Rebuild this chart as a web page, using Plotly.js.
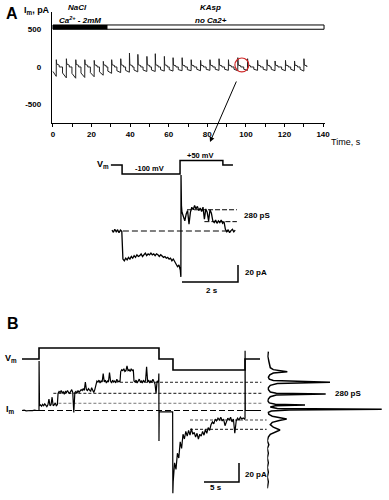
<!DOCTYPE html>
<html><head><meta charset="utf-8">
<script src="https://cdn.plot.ly/plotly-3.0.1.min.js"></script>
<style>html,body{margin:0;padding:0;background:#fff}#plot{width:389px;height:500px}</style>
</head><body><div id="plot"></div>
<script>
// ---------- Panel A, long recording (per-cycle values) ----------
const spikeTimes = [1.74,6.96,11.83,16.52,21.39,26.09,30.43,35.13,39.65,44.0,48.7,53.04,57.74,62.26,66.96,71.65,76.52,81.39,86.09,90.96,95.83,100.87,106.09,110.96,115.13,120.52,125.22,130.09];
const peakCurrents = [97,110,97,97,88,75,97,110,186,168,141,177,141,124,124,97,88,97,110,97,124,110,88,97,80,88,80,110];
const negStartCurrents = [-60,-80,-85,-80,-75,-65,-55,-50,-45,-40,-40,-40,-35,-35,-35,-35,-30,-30,-30,-30,-30,-30,-30,-30,-30,-30,-30,-30];
const negEndCurrents = [-125,-145,-150,-140,-130,-110,-85,-75,-70,-65,-60,-60,-55,-55,-50,-50,-50,-45,-45,-45,-50,-45,-45,-45,-50,-50,-50,-55];
const plateauCurrents = [40,40,35,35,30,30,30,30,30,30,30,30,30,25,25,25,25,25,25,25,25,25,25,25,25,25,25,25];
const xTickVals = [0,10,20,30,40,50,60,70,80,90,100,110,120,130,140];
const xTickText = ['0','','20','','40','','60','','80','','100','','120','','140'];
const yTickVals = [-500,0,500];
const yTickText = ['-500','0','500'];
const solutionBounds = [0,28,140.5];
const solutionBarLevels = [503,560];
const circleTime = [94.3,101.5];
const circleCurrent = [-66,120];

// ---------- Panel A inset (time s, current pA, voltage mV) ----------
const insetSegments = [
  {t0:0, dt:0.05, v:[1,-1.5,2,-1,1.5,-2,1,-0.5]},
  {t0:0.39, dt:0.05, v:[-33,-35,-32,-34,-31,-33,-30,-32,-29,-31,-28,-30,-29,-27,-30,-28,-26,-29,-27,-28,-26,-28,-27,-29,-27,-28,-30,-28,-29,-31,-30,-32,-31,-33,-32,-35,-33,-36,-38,-42,-40,-46]},
  {times:[2.46,2.465,2.48], v:[-54,66,30]},
  {t0:2.5, dt:0.05, v:[22,18,12,20,24,8,22,28,25,30,26,29,24,27,23,28,14,26,22,12,25,21,12,10,13,9,12,10,13,9,11]},
  {t0:4.05, dt:0.05, v:[2,-1,1.5,-2,0.5,2,-1,1]}
];
const insetVmTimes = [-0.04,0.36,2.43,3.96,4.32];
const insetVmLevels = [0,-100,50,0];
const insetDashLevels = [0,25,11];
const insetDashStart = [0.39,2.68,3.3];
const insetDashEnd = [4.25,4.46,4.46];
const insetScaleT = [4.5,4.5,2.5];
const insetScaleI = [-40,-60,-60];

// ---------- Panel B ----------
const bSegments = [
  {t0:0, dt:0.3, v:[0,0.3,-0.3,0.2,0,-0.2,0.3,0,0.1]},
  {times:[2.43,2.44,2.46], v:[0,52,5]},
  {t0:2.5, dt:0.15, v:[5,6,4.5,6.5,5,7,5,4,6,12,5,6,14,5,6,8,5,6]},
  {t0:5.15, dt:0.15, v:[18,20,19,21,18,20,17,20,19,21,19,18,20,22,19,-2,19,20,18,21,19,20,22,21,23,21,30,22,21,23,22,20,24,21,19,22]},
  {t0:10.55, dt:0.15, v:[29,31,30,32,29,31,30,39,30,32,29,31,30,40,31,29,32,30,31,29,33,30,31,30]},
  {t0:14.1, dt:0.15, v:[41,43,42,44,41,42,47,42,43,41,44,42,43]},
  {t0:16.0, dt:0.15, v:[31,30,32,29,31,33,30,31,29,32,30,31,46,30,32,29,31,30,33,30,28,18,31,30]},
  {times:[19.52,19.55,19.57,19.6], v:[32,39,-32,-1.5]},
  {t0:19.8, dt:0.3, v:[-1.5,-1.2,-1.6,-1.3,-1.5,-1.4]},
  {times:[21.52,21.55], v:[-1.5,-87]},
  {t0:21.6, dt:0.2, v:[-75,-55,-62,-45,-50,-33,-40,-25,-30,-22,-27,-21,-26,-19,-25,-23,-28,-24,-30,-25,-27,-22,-26,-20,-24,-18,-21,-15,-12,-14,-9,-11,-8,-10,-7,-11,-9,-16,-12,-8,-10,-7,-12,-9,-24,-11,-8,-10,-7,-9,-8,-9]},
  {times:[31.86,31.87,31.9], v:[-8,63,0]},
  {t0:32.0, dt:0.3, v:[0,0.1,-0.1,0,0.1,0,-0.1,0]}
];
const bVmTimes = [0,2.43,19.57,21.57,31.86,34.0];
const bVmLevels = [0,40,0,-40,0];
const bDashLevels = [0,7.6,18.1,29.7,-10,-19.8];
const bDashStart = [2.43,5.2,4.48,14,24,24];
const bDashEnd = [34.2,34.2,34.2,34.2,34.95,34.95];
const bDashColors = ['#000','#777','#111','#222','#444','#111'];
const bDashStyles = ['6px,3px','3px,2px','3px,2px','3px,2px','3px,2px','3px,2px'];
const bScaleT = [31,31,26];
const bScaleI = [-55.3,-75.3,-75.3];
const histCounts = [1,0.5,1.5,2,3,6,20,6,2.5,1,2,6,62.7,10,3,1,1,3,9,58.4,9,3,1,0.5,2,8,37.7,8,3,10,114.4,22,4,1,1.5,5,12,19.4,12,5,3,6,12.7,9,3,1,0,1.5,0,1,0,1,0,1,0,1,0];
const histCurrent = [62,57,52,48,45,43,40.8,39.5,37.5,35,33,31.5,29.7,28.5,26.5,24,22,19.5,18.2,17.4,16.3,14.5,12,10,8,6.5,5.8,5,3.6,2,1.3,0.6,-0.5,-2,-4,-6,-7.5,-8.9,-10.5,-12.5,-15,-17.5,-20.5,-22.5,-25,-28,-32,-36,-40,-45,-50,-55,-60,-65,-70,-75,-82];

// ---------- build ----------
function buildSegments(segs){
  const t=[], v=[];
  segs.forEach(s=>{
    s.v.forEach((val,i)=>{ t.push(s.times ? s.times[i] : s.t0 + i*s.dt); v.push(val); });
  });
  return {t, v};
}
function buildSteps(times, levels){
  const t=[], v=[];
  levels.forEach((lv,i)=>{ t.push(times[i], times[i+1]); v.push(lv, lv); });
  return {t, v};
}
const aT=[], aI=[];
spikeTimes.forEach((s,i)=>{
  const n0 = Math.max(0, s-2.0);
  if(n0>0) { aT.push(n0); aI.push(0); }
  aT.push(n0, s-0.05, s, s+0.2, s+1.5, s+1.5);
  aI.push(negStartCurrents[i], negEndCurrents[i], peakCurrents[i], plateauCurrents[i], plateauCurrents[i]*0.6, 0);
});

const inset = buildSegments(insetSegments);
const insetVm = buildSteps(insetVmTimes, insetVmLevels);
const bTrace = buildSegments(bSegments);
const bVm = buildSteps(bVmTimes, bVmLevels);

const L = (x,y,xa,ya,extra)=>Object.assign({type:'scatter',mode:'lines',x,y,xaxis:xa,yaxis:ya,hoverinfo:'skip',line:{color:'#000',width:1}},extra||{});

const traces = [];
traces.push(L(aT,aI,'x','y',{line:{color:'#222',width:1}}));
// inset
insetDashLevels.forEach((lv,i)=>traces.push(L([insetDashStart[i],insetDashEnd[i]],[lv,lv],'x2','y2',{line:{color:'#000',width:1,dash: i===0?'6px,3px':'5px,2px'}})));
traces.push(L(inset.t,inset.v,'x2','y2',{line:{color:'#000',width:1.3}}));
traces.push(L(insetVm.t,insetVm.v,'x2','y3',{line:{color:'#000',width:1.5}}));
traces.push(L(insetScaleT,insetScaleI,'x2','y2',{line:{color:'#000',width:1.5}}));
// panel B
bDashLevels.forEach((lv,i)=>traces.push(L([bDashStart[i],bDashEnd[i]],[lv,lv],'x3','y4',{line:{color:bDashColors[i],width:1,dash:bDashStyles[i]}})));
traces.push(L(bTrace.t,bTrace.v,'x3','y4',{line:{color:'#000',width:1.2}}));
traces.push(L(bVm.t,bVm.v,'x3','y5',{line:{color:'#000',width:1.6}}));
traces.push(L(bScaleT,bScaleI,'x3','y4',{line:{color:'#000',width:1.5}}));
traces.push(L(histCounts,histCurrent,'x4','y4',{line:{color:'#000',width:1.5}}));

const W=389, H=500;
const px = x=>x/W, py = y=>1-y/H;
const F = 'Liberation Sans, Arial, sans-serif';
function ann(text,x,y,size,extra){
  return Object.assign({text, x:px(x), y:py(y), xref:'paper', yref:'paper', showarrow:false, xanchor:'center', yanchor:'middle', font:{family:F,size:size,color:'#000'}}, extra||{});
}
const hidden = {visible:false, fixedrange:true, showgrid:false, zeroline:false};

const layout = {
  width:W, height:H, margin:{l:0,r:0,t:0,b:0}, paper_bgcolor:'#fff', plot_bgcolor:'rgba(0,0,0,0)', showlegend:false,
  xaxis:{domain:[52/W,325/W], range:[-0.5,141], anchor:'y', showline:true, linecolor:'#000', linewidth:1.2, ticks:'outside', ticklen:3, tickwidth:1, tickcolor:'#000', tickvals:xTickVals, ticktext:xTickText, tickfont:{family:F,size:8,color:'#000',weight:'bold'}, showgrid:false, zeroline:false, fixedrange:true},
  yaxis:{domain:[py(123),py(12)], range:[-747,733], anchor:'x', showline:true, linecolor:'#000', linewidth:1.2, ticks:'', tickvals:yTickVals, ticktext:yTickText, ticklabelstandoff:8, tickfont:{family:F,size:8,color:'#000',weight:'bold'}, showgrid:false, zeroline:false, fixedrange:true},
  xaxis2:Object.assign({domain:[100/W,250/W], range:[-0.4286,4.9286], anchor:'y2'},hidden),
  yaxis2:Object.assign({domain:[py(290),py(170)], range:[-69.41,71.76], anchor:'x2'},hidden),
  yaxis3:Object.assign({domain:[py(180),py(150)], range:[-166.7,166.7], anchor:'x2'},hidden),
  xaxis3:Object.assign({domain:[10/W,267/W], range:[-1.714,35], anchor:'y4'},hidden),
  yaxis4:Object.assign({domain:[py(500),py(340)], range:[-94.21,74.21], anchor:'x3'},hidden),
  yaxis5:Object.assign({domain:[py(380),py(340)], range:[-76.36,69.09], anchor:'x3'},hidden),
  xaxis4:Object.assign({domain:[267.3/W,1], range:[0,121.7], anchor:'y4'},hidden),
  shapes:[
    {type:'rect', xref:'x', yref:'y', x0:solutionBounds[0], x1:solutionBounds[1], y0:solutionBarLevels[0], y1:solutionBarLevels[1], fillcolor:'#000', line:{color:'#000',width:1}},
    {type:'rect', xref:'x', yref:'y', x0:solutionBounds[1], x1:solutionBounds[2], y0:solutionBarLevels[0], y1:solutionBarLevels[1], fillcolor:'#fff', line:{color:'#000',width:1}},
    {type:'circle', xref:'x', yref:'y', x0:circleTime[0], x1:circleTime[1], y0:circleCurrent[0], y1:circleCurrent[1], line:{color:'#d02828',width:1.2}}
  ],
  annotations:[
    ann('<b>A</b>',12,13,16),
    ann('<b>I<sub>m</sub>, pA</b>',37,10,9),
    ann('<b><i>NaCl</i></b>',77,7,8),
    ann('<b><i>Ca<sup>2+</sup> - 2mM</i></b>',80,20,8),
    ann('<b><i>KAsp</i></b>',210,7,8),
    ann('<b><i>no Ca2+</i></b>',211,20,8),
    ann('Time, s',329,142,9,{xanchor:'left'}),
    {text:'', x:px(210), y:py(142), xref:'paper', yref:'paper', showarrow:true, ax:27, ay:-62, arrowhead:2, arrowsize:1, arrowwidth:1, arrowcolor:'#000'},
    ann('<b>V<sub>m</sub></b>',103,164,9),
    ann('<b>-100 mV</b>',149,168,7.5),
    ann('<b>+50 mV</b>',200,155,7.5),
    ann('<b>280 pS</b>',257,216,8),
    ann('<b>20 pA</b>',256,272,8),
    ann('<b>2 s</b>',212,290,8),
    ann('<b>B</b>',13,323,16),
    ann('<b>V<sub>m</sub></b>',11,358,9),
    ann('<b>I<sub>m</sub></b>',10,409,9),
    ann('<b>280 pS</b>',348,393,8),
    ann('<b>20 pA</b>',256,474,8),
    ann('<b>5 s</b>',216,487,8)
  ]
};
Plotly.newPlot('plot', traces, layout, {staticPlot:true, displayModeBar:false});
</script>
</body></html>
